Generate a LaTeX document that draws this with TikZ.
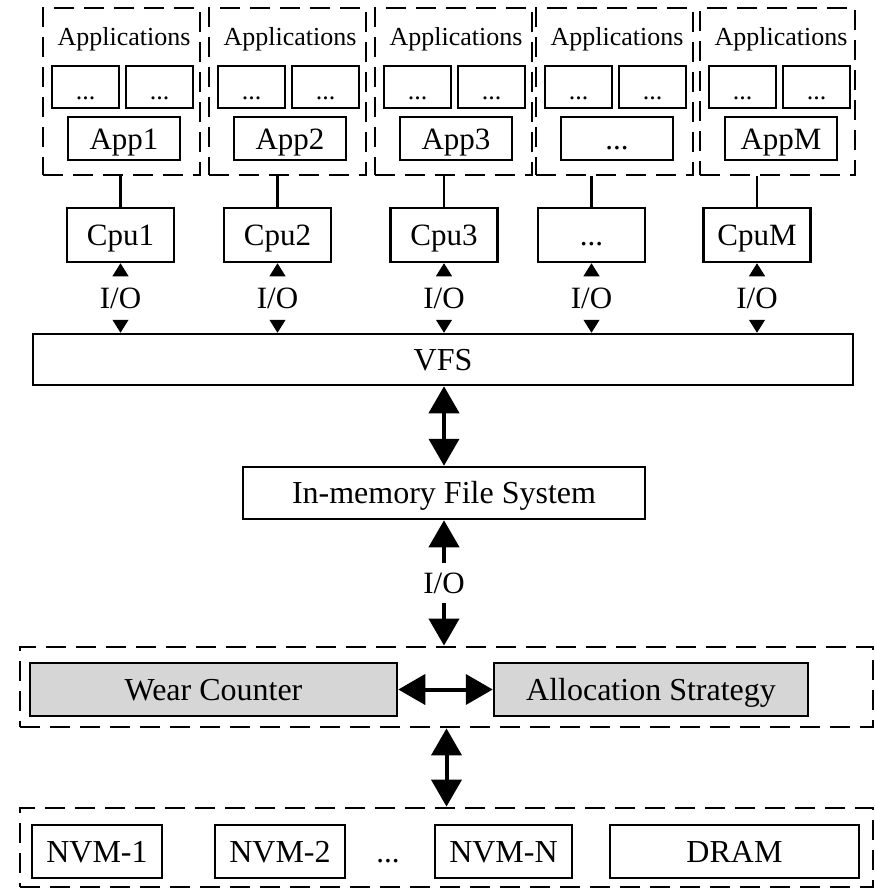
\documentclass[tikz,border=0pt]{standalone}
\usepackage{fontspec}
\setmainfont{Liberation Serif}
\usetikzlibrary{arrows.meta}
\newcommand\tridots{...}
\begin{document}
\begin{tikzpicture}[x=1pt,y=-1pt,
  box/.style={draw, line width=2.5pt, inner sep=0pt,
    font=\fontsize{31}{36}\selectfont, text height=21pt, text depth=0pt},
  smallbox/.style={box, font=\fontsize{26}{30}\selectfont, text height=25pt},
  graybox/.style={box, fill=gray!32, font=\fontsize{32}{38}\selectfont, text height=21.8pt},
  widebox/.style={box, font=\fontsize{32}{38}\selectfont, text height=21.8pt},
  group/.style={draw, line width=2.8pt, dash pattern=on 20pt off 10pt, inner sep=0pt},
  grouplabel/.style={inner sep=0pt, font=\fontsize{26}{30}\selectfont,
    text height=17.7pt, text depth=0pt},
  iolabel/.style={inner sep=0pt, font=\fontsize{31}{36}\selectfont,
    text height=21pt, text depth=0pt},
  link/.style={line width=2.8pt},
  smalltip/.style={line width=1pt, -{Triangle[length=13pt,width=16pt]}},
  bigarrow/.style={line width=4pt,
    {Triangle[length=27pt,width=30pt]}-{Triangle[length=27pt,width=30pt]}}
]
\useasboundingbox (0,0) rectangle (875,889);

% application groups with their CPUs
\foreach \L/\W/\n/\app/\cpu/\cx in {
    43/157/1/App1/Cpu1/120.5,
    209/157/2/App2/Cpu2/277.5,
    375/157/3/App3/Cpu3/444,
    536/157/4/\tridots/\tridots/591.5,
    700/155/5/AppM/CpuM/757}{
  \node[group, minimum width=\W pt, minimum height=167pt] (g\n) at (\L+\W/2, 91.5) {};
  \node[grouplabel] (lab\n) at (\L+81, 37) {Applications};
  \node[smallbox, minimum width=67pt, minimum height=42pt] (sa\n) at (\L+42.5, 87) {\tridots};
  \node[smallbox, minimum width=67pt, minimum height=42pt] (sb\n) at (\L+116.5, 87) {\tridots};
  \node[box, minimum width=112pt, minimum height=43pt] (app\n) at (\L+81, 138.5) {\app};
  \node[box, minimum width=107pt, minimum height=54pt] (cpu\n) at (\cx, 235) {\cpu};
  \draw[link] (cpu\n.north |- g\n.south) -- (cpu\n.north);
  \node[iolabel] (io\n) at (\cx, 298) {I/O};
}

\node[widebox, minimum width=820pt, minimum height=51pt] (vfs) at (443, 359.5) {VFS};

\foreach \n in {1,2,3,4,5}{
  \draw[smalltip, shorten <=12pt] (io\n.north) -- (cpu\n.south);
  \draw[smalltip, shorten <=11pt] (io\n.south) -- (io\n.south |- vfs.north);
}

\node[widebox, minimum width=402pt, minimum height=52pt] (imfs) at (444, 493) {In-memory File System};
\draw[bigarrow] (imfs.north) -- (imfs.north |- vfs.south);

% wear-levelling layer
\node[group, minimum width=853pt, minimum height=80pt] (mid) at (446.5, 687) {};
\node[graybox, minimum width=367pt, minimum height=53pt] (wear) at (213.5, 689.5) {Wear Counter};
\node[graybox, minimum width=314pt, minimum height=53pt] (alloc) at (651, 689.5) {Allocation Strategy};
\draw[bigarrow] (wear.east) -- (alloc.west);

\draw[bigarrow] (imfs.south) -- (imfs.south |- mid.north)
  node[midway, fill=white, inner sep=0pt, minimum height=40pt, minimum width=44pt,
       font=\fontsize{31}{36}\selectfont, text height=21pt, text depth=0pt] (io6) {I/O};

% memory devices
\node[group, minimum width=853pt, minimum height=79pt] (bot) at (446.5, 847.5) {};
\node[widebox, minimum width=130pt, minimum height=53pt] (nvm1) at (97, 851.5) {NVM-1};
\node[widebox, minimum width=130pt, minimum height=53pt] (nvm2) at (280, 851.5) {NVM-2};
\node[iolabel] (ndots) at (388, 851.5) {\tridots};
\node[widebox, minimum width=137pt, minimum height=53pt] (nvmn) at (503.5, 851.5) {NVM-N};
\node[widebox, minimum width=249pt, minimum height=53pt] (dram) at (734.5, 851.5) {DRAM};
\draw[bigarrow] (mid.south) -- (mid.south |- bot.north);
\end{tikzpicture}
\end{document}
